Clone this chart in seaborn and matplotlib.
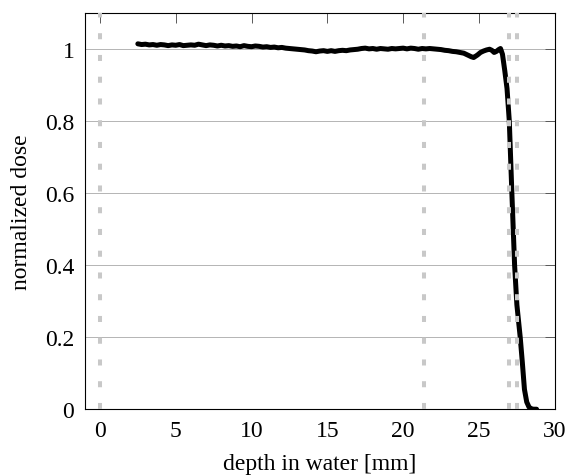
import matplotlib
matplotlib.use("Agg")
import matplotlib.pyplot as plt
import seaborn as sns

# depth-dose profile
depth = [2.5, 2.75, 3.0, 3.25, 3.5, 3.75, 4.0, 4.25, 4.5, 4.75, 5.0, 5.25, 5.5,
         5.75, 6.0, 6.25, 6.5, 6.75, 7.0, 7.25, 7.5, 7.75, 8.0, 8.25, 8.5, 8.75,
         9.0, 9.25, 9.5, 9.75, 10.0, 10.25, 10.5, 10.75, 11.0, 11.25, 11.5,
         11.75, 12.0, 12.25, 12.5, 12.75, 13.0, 13.25, 13.5, 13.75, 14.0, 14.25,
         14.5, 14.75, 15.0, 15.25, 15.5, 15.75, 16.0, 16.25, 16.5, 16.75, 17.0,
         17.25, 17.5, 17.75, 18.0, 18.25, 18.5, 18.75, 19.0, 19.25, 19.5, 19.75,
         20.0, 20.25, 20.5, 20.75, 21.0, 21.25, 21.5, 21.75, 22.0, 22.25, 22.5,
         22.75, 23.0, 23.25, 23.5, 23.75, 24.0, 24.25, 24.5, 24.65, 24.9, 25.1,
         25.3, 25.5, 25.7, 25.85, 26.0, 26.15, 26.3, 26.42, 26.55, 26.7, 26.85,
         27.0, 27.17, 27.35, 27.5, 27.72, 27.86, 28.0, 28.15, 28.3, 28.45, 28.6,
         28.8]
dose = [1.014, 1.012, 1.013, 1.011, 1.012, 1.010, 1.012, 1.011, 1.009, 1.011,
        1.010, 1.012, 1.009, 1.010, 1.011, 1.010, 1.013, 1.011, 1.009, 1.011,
        1.010, 1.008, 1.010, 1.008, 1.009, 1.007, 1.008, 1.006, 1.009, 1.007,
        1.006, 1.008, 1.007, 1.005, 1.006, 1.004, 1.005, 1.003, 1.004, 1.002,
        1.001, 1.000, 0.999, 0.998, 0.997, 0.995, 0.994, 0.992, 0.994, 0.995,
        0.993, 0.995, 0.993, 0.995, 0.996, 0.995, 0.997, 0.998, 0.999, 1.001,
        1.002, 1.000, 1.001, 0.999, 1.001, 1.000, 0.999, 1.001, 1.000, 1.001,
        1.002, 1.000, 1.002, 1.001, 0.999, 1.001, 1.000, 1.001, 1.000, 0.999,
        0.998, 0.996, 0.995, 0.993, 0.992, 0.990, 0.988, 0.983, 0.978, 0.976,
        0.983, 0.990, 0.994, 0.997, 0.999, 0.996, 0.990, 0.993, 0.998, 1.001,
        0.985, 0.94, 0.89, 0.80, 0.60, 0.40, 0.29, 0.20, 0.13, 0.055, 0.02,
        0.006, 0.001, 0.0, 0.0]

# positions of the grey dotted markers
markers = [0.0, 21.35, 26.95, 27.5]

x_ticks = [0, 5, 10, 15, 20, 25, 30]
y_ticks = [0, 0.2, 0.4, 0.6, 0.8, 1.0]
y_labels = ["0", "0.2", "0.4", "0.6", "0.8", "1"]

sns.set_theme(style="white")
plt.rcParams["font.family"] = ["Liberation Serif", "DejaVu Serif"]

fig = plt.figure(figsize=(5.69, 4.77), dpi=100)
ax = fig.add_axes([0.149, 0.140, 0.826, 0.831])

ax.yaxis.grid(True, color="#b4b4b4", lw=0.7)
ax.xaxis.grid(False)
ax.set_axisbelow(True)

sns.lineplot(x=depth, y=dose, color="black", lw=3.6, ax=ax, zorder=3)

for m in markers:
    ax.axvline(m, color="#c8c8c8", lw=2.9, dashes=(1.5, 3.9), zorder=4)

ax.set_xlim(-1, 30)
ax.set_ylim(0, 1.1)
ax.set_xticks(x_ticks)
ax.set_yticks(y_ticks)
ax.set_yticklabels(y_labels)

for s in ax.spines.values():
    s.set_color("black")
    s.set_linewidth(0.8)

ax.tick_params(direction="in", top=True, right=True, length=7, width=0.7,
               color="0.35", labelsize=17, pad=7.5, labelcolor="black")
ax.set_xlabel("depth in water [mm]", fontsize=17, color="black", labelpad=9)
ax.set_ylabel("normalized dose", fontsize=17, color="black", labelpad=9)

fig.savefig("out.png", dpi=100)
plt.close(fig)
